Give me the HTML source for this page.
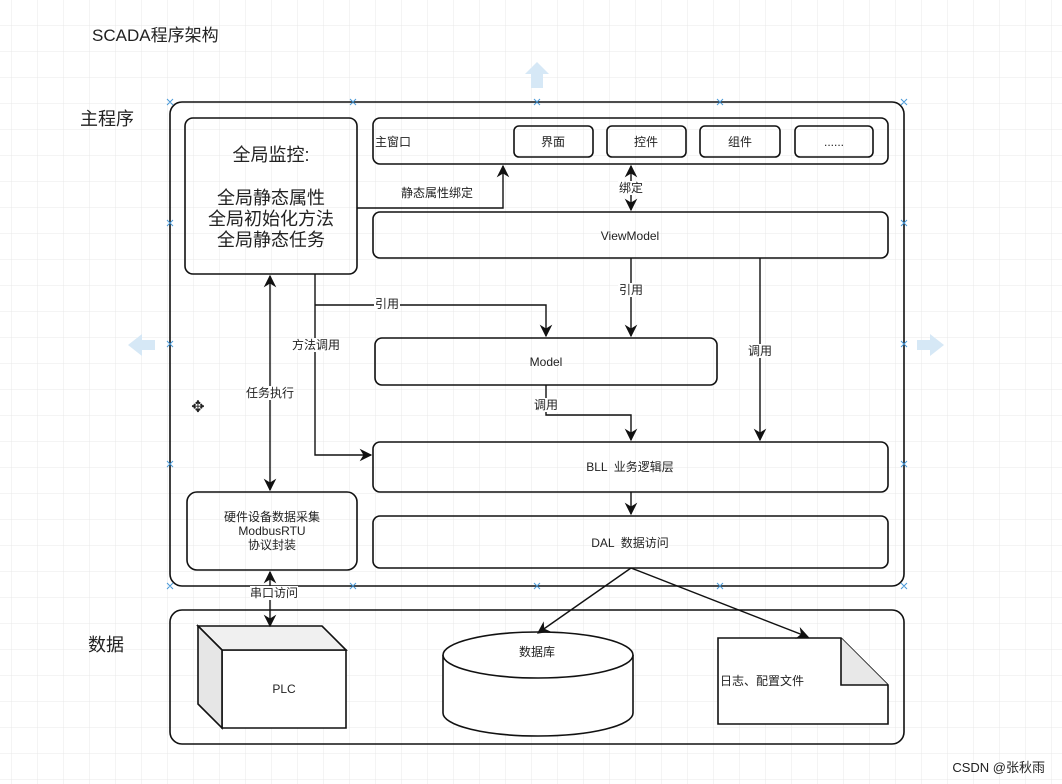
<!DOCTYPE html>
<html><head><meta charset="utf-8"><style>
html,body{margin:0;padding:0;background:#fff}
svg{display:block}
text{font-family:"Liberation Sans","Noto Sans CJK SC",sans-serif;fill:#222}
</style></head><body>
<svg width="1062" height="784" viewBox="0 0 1062 784" xmlns="http://www.w3.org/2000/svg">
<defs>
<pattern id="g" width="26" height="26" patternUnits="userSpaceOnUse" x="12" y="0">
<path d="M26 0V26M0 26H26" fill="none" stroke="#e8e8e8" stroke-width="1"/>
</pattern>
<marker id="a" viewBox="0 0 10 10" refX="9" refY="5" markerWidth="9" markerHeight="9" orient="auto-start-reverse">
<path d="M0 0L10 5L0 10L3 5Z" fill="#111"/>
</marker>
</defs>
<rect width="1062" height="784" fill="url(#g)"/>
<text x="92" y="41" font-size="17">SCADA程序架构</text>
<text x="80" y="125" font-size="18">主程序</text>
<text x="88" y="651" font-size="18">数据</text>
<g fill="#d6e8f6">
<path d="M531 88h12v-14h6l-12-12-12 12h6z"/>
<path d="M155 340H142V334L128 345L142 356V350H155Z"/>
<path d="M917 340H930V334L944 345L930 356V350H917Z"/>
</g>
<g fill="none" stroke="#111" stroke-width="1.6">
<rect x="170" y="102" width="734" height="484" rx="12"/>
<rect x="170" y="610" width="734" height="134" rx="12"/>
<rect x="185" y="118" width="172" height="156" rx="8"/>
<rect x="373" y="118" width="515" height="46" rx="7"/>
<rect x="514" y="126" width="79" height="31" rx="5"/>
<rect x="607" y="126" width="79" height="31" rx="5"/>
<rect x="700" y="126" width="80" height="31" rx="5"/>
<rect x="795" y="126" width="78" height="31" rx="5"/>
<rect x="373" y="212" width="515" height="46" rx="7"/>
<rect x="375" y="338" width="342" height="47" rx="7"/>
<rect x="373" y="442" width="515" height="50" rx="7"/>
<rect x="373" y="516" width="515" height="52" rx="7"/>
<rect x="187" y="492" width="170" height="78" rx="10"/>
<path d="M222 650H346V728H222Z" fill="#fff"/>
<path d="M198 626H322L346 650H222Z" fill="#f0f0f0"/>
<path d="M198 626L222 650V728L198 704Z" fill="#e6e6e6"/>
<path d="M443 655V713A95 23 0 0 0 633 713V655" fill="#fff"/>
<ellipse cx="538" cy="655" rx="95" ry="23" fill="#fff"/>
<path d="M718 638H841L888 685V724H718Z" fill="#fff"/>
<path d="M841 638V685H888" fill="#e8e8e8"/>
</g>
<g fill="none" stroke="#111" stroke-width="1.4" marker-end="url(#a)">
<path d="M357 208H503V166"/>
<path d="M631 188V166" />
<path d="M631 188V210" />
<path d="M631 258V336"/>
<path d="M760 258V440"/>
<path d="M315 274V455H371"/>
<path d="M315 305H546V336"/>
<path d="M546 385V415H631V440"/>
<path d="M631 492V514"/>
<path d="M270 393V276"/>
<path d="M270 393V490"/>
<path d="M270 600V572"/>
<path d="M270 600V626"/>
<path d="M631 568L538 633"/>
<path d="M631 568L808 637"/>
</g>
<g font-size="12" text-anchor="middle">
<rect x="398" y="186" width="78" height="14" fill="#fff"/><text x="437" y="197">静态属性绑定</text>
<rect x="618" y="181" width="26" height="14" fill="#fff"/><text x="631" y="192">绑定</text>
<rect x="618" y="283" width="26" height="14" fill="#fff"/><text x="631" y="294">引用</text>
<rect x="747" y="344" width="26" height="14" fill="#fff"/><text x="760" y="355">调用</text>
<rect x="374" y="297" width="26" height="14" fill="#fff"/><text x="387" y="308">引用</text>
<rect x="292" y="338" width="48" height="14" fill="#fff"/><text x="316" y="349">方法调用</text>
<rect x="533" y="398" width="26" height="14" fill="#fff"/><text x="546" y="409">调用</text>
<rect x="246" y="386" width="48" height="14" fill="#fff"/><text x="270" y="397">任务执行</text>
<rect x="250" y="586" width="48" height="14" fill="#fff"/><text x="274" y="597">串口访问</text>
<text x="553" y="146">界面</text><text x="646" y="146">控件</text><text x="740" y="146">组件</text>
<text x="834" y="146" fill="#888">......</text>
<text x="630" y="240">ViewModel</text>
<text x="546" y="366">Model</text>
<text x="630" y="471">BLL &#160;业务逻辑层</text>
<text x="630" y="547">DAL &#160;数据访问</text>
<text x="272" y="521">硬件设备数据采集</text>
<text x="272" y="535">ModbusRTU</text>
<text x="272" y="549">协议封装</text>
<text x="284" y="693">PLC</text>
<text x="537" y="656">数据库</text>
</g>
<text x="375" y="146" font-size="12">主窗口</text>
<text x="720" y="685" font-size="12">日志、配置文件</text>
<g font-size="18" text-anchor="middle">
<text x="271" y="161">全局监控:</text>
<text x="271" y="204">全局静态属性</text>
<text x="271" y="225">全局初始化方法</text>
<text x="271" y="246">全局静态任务</text>
</g>
<g stroke="#4a9ad8" stroke-width="1">
<path d="M167 99l6 6M173 99l-6 6M350 99l6 6M356 99l-6 6M534 99l6 6M540 99l-6 6M717 99l6 6M723 99l-6 6M901 99l6 6M907 99l-6 6"/>
<path d="M167 583l6 6M173 583l-6 6M350 583l6 6M356 583l-6 6M534 583l6 6M540 583l-6 6M717 583l6 6M723 583l-6 6M901 583l6 6M907 583l-6 6"/>
<path d="M167 341l6 6M173 341l-6 6M901 341l6 6M907 341l-6 6M167 461l6 6M173 461l-6 6M901 461l6 6M907 461l-6 6M167 220l6 6M173 220l-6 6M901 220l6 6M907 220l-6 6"/>
</g>
<text x="198" y="412" font-size="16" text-anchor="middle" fill="#555">✥</text>
<text x="1045" y="772" font-size="13" text-anchor="end" fill="#444">CSDN @张秋雨</text>
</svg>
</body></html>
